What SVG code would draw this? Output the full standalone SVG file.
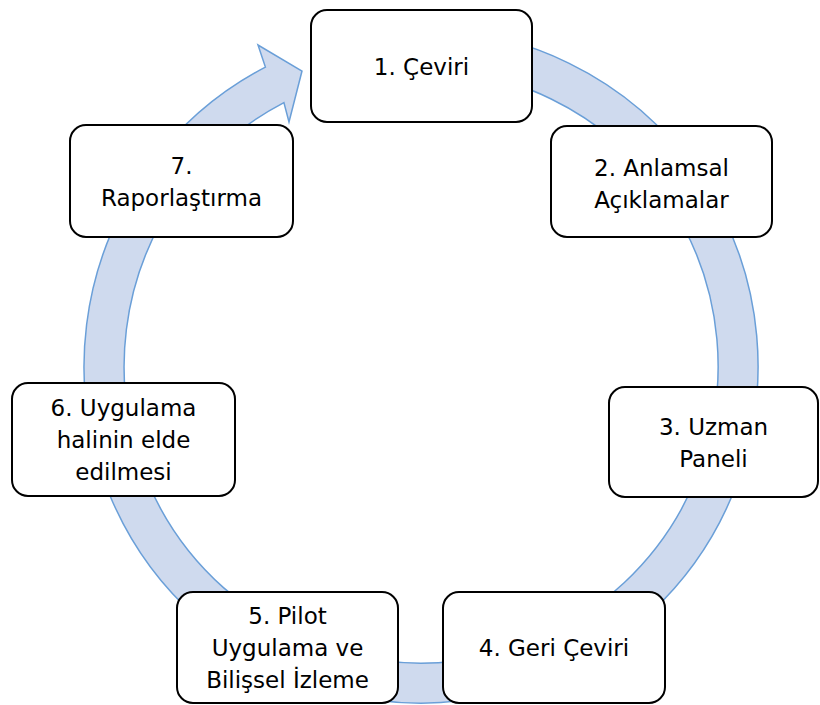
<svg xmlns="http://www.w3.org/2000/svg" width="820" height="705" viewBox="0 0 820 705">
  <style>
    .box { fill: #ffffff; stroke: #000000; stroke-width: 2; }
    .lbl { font-family: "DejaVu Sans", "Liberation Sans", sans-serif; font-size: 23px; fill: #000000; text-anchor: middle; }
    .band { fill: #cfdaee; stroke: #6a9fd8; stroke-width: 1.5; stroke-linejoin: miter; }
  </style>
  <rect width="820" height="705" fill="#ffffff"/>
  <g id="connectors">
    <path class="band" d="M 421 29 A 337 337 0 1 1 265.4 67.1 L 258 45 L 302 71 L 289 122 L 283.9 102.6 A 297 297 0 1 0 421 69 Z"/>
  </g>
  <g id="node1">
    <rect class="box" x="311" y="10" width="221" height="112" rx="16"/>
    <text class="lbl" x="421.5" y="75">1. Çeviri</text>
  </g>
  <g id="node2">
    <rect class="box" x="551" y="126" width="221" height="111" rx="16"/>
    <text class="lbl" x="661.5" y="176">2. Anlamsal</text>
    <text class="lbl" x="661.5" y="208">Açıklamalar</text>
  </g>
  <g id="node3">
    <rect class="box" x="609" y="387" width="209" height="110" rx="16"/>
    <text class="lbl" x="713.5" y="435">3. Uzman</text>
    <text class="lbl" x="713.5" y="467">Paneli</text>
  </g>
  <g id="node4">
    <rect class="box" x="443" y="592" width="222" height="111" rx="16"/>
    <text class="lbl" x="554" y="656">4. Geri Çeviri</text>
  </g>
  <g id="node5">
    <rect class="box" x="177" y="592" width="221" height="111" rx="16"/>
    <text class="lbl" x="287.5" y="624">5. Pilot</text>
    <text class="lbl" x="287.5" y="656">Uygulama ve</text>
    <text class="lbl" x="287.5" y="688">Bilişsel İzleme</text>
  </g>
  <g id="node6">
    <rect class="box" x="12" y="383" width="223" height="113" rx="16"/>
    <text class="lbl" x="123.5" y="416">6. Uygulama</text>
    <text class="lbl" x="123.5" y="448">halinin elde</text>
    <text class="lbl" x="123.5" y="480">edilmesi</text>
  </g>
  <g id="node7">
    <rect class="box" x="70" y="125" width="223" height="112" rx="16"/>
    <text class="lbl" x="181.5" y="174">7.</text>
    <text class="lbl" x="181.5" y="206">Raporlaştırma</text>
  </g>
</svg>
